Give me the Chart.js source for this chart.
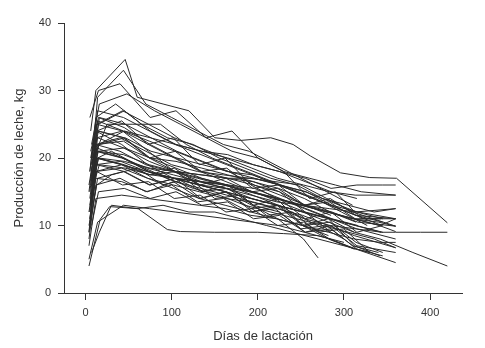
<!DOCTYPE html>
<html lang="es">
<head>
    <meta charset="UTF-8">
    <title>Producción de leche</title>
    <script src="https://cdn.jsdelivr.net/npm/chart.js"></script>
    <style>
        body { margin: 0; background: #fff; }
        #wrap { width: 485px; height: 348px; }
    </style>
</head>
<body>
    <div id="wrap"><canvas id="grafico" width="485" height="348"></canvas></div>

    <script>
        // ticks de los ejes
        const ticksX = [0, 100, 200, 300, 400];
        const ticksY = [0, 10, 20, 30, 40];

        // días de control de cada vaca
        const diasVaca = [
            [6, 12, 46, 60, 90, 120, 150, 180, 215, 241, 261, 296, 330, 361, 420],
            [8, 14, 44, 70, 100, 130, 160, 190, 220, 250, 280, 310],
            [5, 15, 40, 75, 105, 140, 170, 200, 230, 260, 290, 320, 360],
            [7, 16, 48, 80, 110, 140, 170, 200, 230, 260, 290, 320, 360],
            [5, 12, 35, 65, 95, 125, 155, 185, 215, 245, 275, 305, 335, 360],
            [9, 15, 45, 75, 105, 135, 165, 195, 225, 255, 285, 315, 345, 360],
            [4, 13, 42, 72, 102, 132, 162, 192, 222, 252, 282],
            [6, 14, 44, 74, 104, 134, 164, 194, 224, 254, 284, 314, 344],
            [10, 16, 46, 76, 106, 136, 166, 196, 226, 256, 286, 316, 360],
            [5, 12, 40, 70, 100, 130, 160, 190, 220, 250, 280, 310, 360],
            [7, 14, 44, 74, 104, 134, 164, 194, 224, 254, 284, 314],
            [4, 11, 41, 71, 101, 131, 161, 191, 221, 251, 281, 311, 341, 360],
            [6, 15, 45, 75, 105, 135, 165, 195, 225, 255, 285, 315, 360],
            [8, 13, 43, 73, 103, 133, 163, 193, 223, 253, 283, 313, 343],
            [5, 12, 42, 72, 102, 132, 162, 192, 222, 252, 282, 312, 360],
            [4, 14, 44, 74, 104, 134, 164, 194, 224, 254, 284, 314, 360],
            [4, 17, 28, 61, 95, 110, 150, 200, 230, 270, 300],
            [7, 16, 30, 60, 90, 120, 150, 180, 210, 240, 270, 300, 330],
            [6, 13, 45, 75, 105, 135, 165, 195, 225, 255, 285, 315, 345],
            [9, 14, 44, 74, 104, 134, 164, 194, 224, 254, 284],
            [5, 12, 42, 72, 102, 132, 162, 192, 222, 252, 282, 312, 342],
            [7, 15, 45, 75, 105, 135, 165, 195, 225, 255, 285, 315, 360],
            [4, 12, 40, 70, 100, 130, 160, 190, 220, 250, 280, 310, 340],
            [6, 14, 44, 74, 104, 134, 164, 194, 224, 254, 284, 314, 360],
            [8, 13, 43, 73, 103, 133, 163, 193, 223, 253, 283, 313],
            [5, 16, 46, 76, 106, 136, 166, 196, 226, 256, 286, 316, 360],
            [7, 12, 42, 72, 102, 132, 162, 192, 222, 252, 282, 312],
            [4, 14, 30, 60, 95, 125, 155, 185, 215, 245, 275, 305, 335, 360],
            [6, 15, 45, 75, 105, 135, 165, 195, 225, 255, 285, 300],
            [9, 13, 43, 73, 103, 133, 163, 193, 223, 253, 270],
            [5, 12, 42, 72, 102, 132, 162, 192, 222, 252, 282, 312, 342, 360],
            [7, 15, 45, 75, 105, 135, 165, 195, 225, 255, 285, 315, 345],
            [4, 13, 43, 73, 103, 133, 163, 193, 223, 253, 283, 313, 360],
            [8, 14, 44, 74, 104, 134, 164, 194, 224, 254, 284, 314, 344, 360, 389, 420],
            [6, 12, 42, 72, 102, 132, 162, 192, 222, 252, 282, 312, 342, 380, 420],
            [5, 14, 44, 74, 104, 134, 164, 194, 224, 254, 284, 314, 345],
            [7, 16, 46, 76, 106, 136, 166, 196, 226, 256, 286, 316],
            [4, 12, 42, 72, 102, 132, 162, 192, 222, 252, 282, 312, 342, 360],
            [6, 15, 45, 75, 105, 135, 165, 195, 225, 255, 285],
            [9, 13, 43, 73, 103, 133, 163, 193, 223, 253, 283, 313, 343],
            [5, 15, 45, 75, 105, 135, 165, 195, 225, 255, 285, 315],
            [7, 12, 40, 70, 100, 130, 160, 190, 220, 250, 280, 310, 340, 360],
            [4, 14, 44, 74, 104, 134, 164, 194, 224, 254, 284, 314, 345],
            [6, 13, 43, 73, 103, 133, 163, 193, 223, 253, 283, 313, 360],
            [8, 15, 45, 75, 105, 135, 165, 195, 225, 255, 285, 315, 345],
            [5, 12, 42, 72, 102, 132, 162, 192, 222, 252, 282, 312],
            [10, 14, 44, 74, 104, 134, 164, 194, 224, 254, 284, 314, 345],
            [4, 13, 30, 60, 90, 120, 150, 180, 210, 240, 270, 300, 330],
            [6, 25, 55, 87, 117, 147, 177, 207, 237, 267, 297, 327]
        ];

        // producción (kg) en cada control
        const kgVaca = [
            [24, 30, 34.6, 29, 28, 27, 23, 22.6, 23, 22, 20.3, 17.8, 17.1, 17, 10.4],
            [20, 29, 33, 28, 26, 24, 22, 21, 19, 17, 15, 13],
            [26, 30, 31, 26, 27, 23, 24, 20, 18, 14, 15, 11, 11],
            [22, 28, 29.5, 27, 25, 23, 21, 20, 18, 17, 16, 15, 14.5],
            [18, 26, 28, 25, 23, 22, 20, 18.5, 17, 16, 14, 13, 12, 12.5],
            [21, 25, 27, 24, 22, 21, 20.5, 19, 18, 17, 15.5, 16, 16, 16],
            [15, 24, 25.5, 22, 23, 19, 20, 16, 14, 10, 8.5],
            [17, 25.5, 24, 22.5, 21, 19.5, 18, 17.5, 16, 14.5, 13, 11.5, 10],
            [20, 22, 23, 21, 20, 19, 18, 17, 16, 15, 13, 12, 11],
            [12, 22, 23, 21, 19, 18, 17.5, 17, 16.5, 16, 14, 12, 9.9],
            [16, 21, 20.5, 19, 18, 17.5, 17, 16.5, 15.5, 14, 12, 10.5],
            [9, 19, 19.5, 18, 17, 16.5, 16, 15, 14, 13, 12, 11, 10, 9.1],
            [14, 20, 19, 17.5, 18, 15, 16, 13, 12, 9, 10, 7, 6],
            [17, 21.5, 20, 18, 17, 16, 15.5, 14, 13, 12, 11, 10, 9],
            [10, 18, 18.5, 17, 16, 15, 14, 13.5, 12.5, 11.5, 10, 8.5, 6.7],
            [5, 10.5, 13, 12.5, 12, 11.5, 11, 10.5, 10, 9, 8, 6.5, 4.5],
            [4, 10.9, 12.8, 12.5, 9.4, 9.1, 9, 9, 8.8, 8.5, 7.5],
            [6, 9, 13, 12.5, 13, 12, 12, 11, 10, 9, 8, 7, 6],
            [13, 19, 18, 16, 17, 15, 15.5, 13, 14, 11, 12, 9, 10],
            [18, 23, 21.5, 19.5, 18, 17, 16, 14.5, 13, 11, 9],
            [11, 17, 16.5, 15, 16.5, 14, 15, 12.5, 13, 10, 11, 7, 5.5],
            [19, 24, 23, 20, 18.5, 17, 16, 15, 13.5, 12, 11, 9.5, 8],
            [8, 16, 17, 15, 16, 13.5, 14, 12, 12.5, 9.5, 10, 7, 6],
            [16, 22, 22.5, 20, 21, 18, 18.5, 15.5, 16, 13, 14, 11.5, 11],
            [14, 18, 16, 16.5, 14, 14.5, 12, 12.5, 10, 10.5, 8, 6.5],
            [15, 26, 25, 23, 21, 19.5, 18, 16, 14.5, 13, 12, 10.5, 9.9],
            [20, 24, 22, 19, 17, 16, 15, 14, 13, 12, 10.5, 9],
            [12, 20, 21, 19, 17, 15.5, 14.5, 13, 12, 11, 10, 9, 8, 6.7],
            [17, 21, 21.5, 20, 19.5, 18.5, 17.5, 16.5, 15, 12, 9, 8],
            [22, 25, 24, 21, 18, 16, 15, 13, 11, 8, 5.2],
            [14, 21, 20, 18.5, 17.5, 16.5, 15.5, 14.5, 13.5, 13, 12, 11, 10, 11],
            [10, 15, 15.5, 14, 15, 13, 13.5, 11, 11.5, 9, 9.5, 6.5, 5.5],
            [16, 23, 24, 22, 20, 18, 16.5, 15, 14, 13, 12.5, 12, 12.5],
            [19, 21, 20, 18, 16.5, 15.5, 14.5, 13.5, 12.5, 11, 10, 9.5, 9, 9, 9, 9],
            [13, 18, 19, 18, 17, 16, 15, 14, 13, 12, 11, 9, 8, 6, 4],
            [18, 27, 26, 24, 22, 20.5, 19, 17.5, 16, 14.5, 13, 11.5, 10.5],
            [15, 19, 18.5, 17.5, 17, 16.5, 16, 15.5, 14, 12.5, 11, 10],
            [7, 14, 14.5, 14, 13.5, 13, 12.5, 11.5, 11, 10, 9, 8, 7.5, 7.5],
            [21, 26, 24.5, 22, 20, 18, 17, 16, 15, 13, 11.5],
            [17, 20, 19, 17.5, 18.5, 16, 17, 15, 15.5, 13, 13.5, 11, 11],
            [11, 22, 24, 23, 22, 21, 20, 19, 18, 16.5, 15, 14],
            [18, 22, 21, 19, 18, 17, 16, 15, 14, 13, 12, 11, 10.5, 9.9],
            [9, 17, 18, 16, 17, 14, 15, 12, 13, 10, 10.5, 7.5, 6],
            [20, 25, 27, 25, 23, 21.5, 20, 18.5, 17, 16, 15, 14.5, 14.5],
            [16, 20, 19.5, 18.5, 18, 17.5, 17, 17, 16, 15, 13.5, 12, 11],
            [13, 20, 19, 17, 15.5, 14, 13, 12, 11, 10, 8, 6.5],
            [22, 24, 23, 20, 18, 16.5, 15.5, 15, 14, 12.5, 11, 10, 9],
            [10, 16, 17.5, 18.5, 16, 17, 14, 14.5, 11.5, 12, 9, 9.5, 6],
            [19, 25, 25, 25, 22, 20, 18.5, 17, 15.5, 14, 12, 10]
        ];

        const colorTexto = '#333';

        const datasets = diasVaca.map((dias, i) => ({
            data: dias.map((d, j) => ({ x: d, y: kgVaca[i][j] })),
            showLine: true,
            borderColor: '#2a2a2a',
            borderWidth: 1,
            pointRadius: 0,
            fill: false
        }));

        const ctx = document.getElementById('grafico').getContext('2d');
        const chart = new Chart(ctx, {
            type: 'scatter',
            data: { datasets: datasets },
            options: {
                responsive: false,
                animation: false,
                events: [],
                layout: { padding: { left: 0, top: 23, right: 23, bottom: 0 } },
                plugins: { legend: { display: false }, tooltip: { enabled: false } },
                scales: {
                    x: {
                        type: 'linear',
                        min: -25,
                        max: 437,
                        afterBuildTicks: s => { s.ticks = ticksX.map(v => ({ value: v })); },
                        afterFit: s => { s.height = 55; },
                        grid: { drawOnChartArea: false, drawTicks: true, tickLength: 7, color: colorTexto },
                        border: { display: true, color: colorTexto, width: 1 },
                        ticks: { color: colorTexto, padding: 6, font: { family: 'Liberation Sans, Arial', size: 11 }, maxRotation: 0 },
                        title: { display: true, text: 'Días de lactación', color: colorTexto,
                                 font: { family: 'Liberation Sans, Arial', size: 13 }, padding: { top: 0, bottom: 4 } }
                    },
                    y: {
                        type: 'linear',
                        min: 0,
                        max: 40,
                        afterBuildTicks: s => { s.ticks = ticksY.map(v => ({ value: v })); },
                        afterFit: s => { s.width = 64; },
                        grid: { drawOnChartArea: false, drawTicks: true, tickLength: 6, color: colorTexto },
                        border: { display: true, color: colorTexto, width: 1 },
                        ticks: { color: colorTexto, padding: 7, font: { family: 'Liberation Sans, Arial', size: 11 } },
                        title: { display: true, text: 'Producción de leche, kg', color: colorTexto,
                                 font: { family: 'Liberation Sans, Arial', size: 13 }, padding: { top: 12, bottom: 0 } }
                    }
                }
            }
        });
    </script>
</body>
</html>
